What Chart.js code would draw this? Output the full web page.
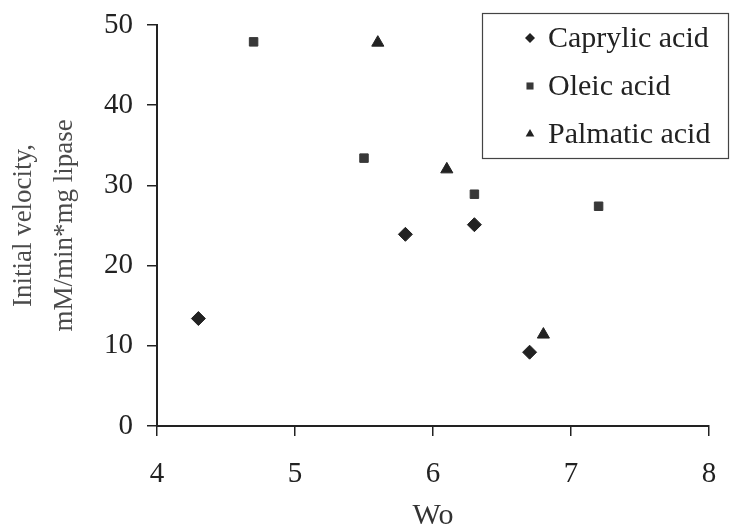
<!DOCTYPE html>
<html>
<head>
<meta charset="utf-8">
<script src="https://cdn.jsdelivr.net/npm/chart.js@4.4.1/dist/chart.umd.min.js"></script>
<style>
  html, body { margin: 0; padding: 0; background: #fff; }
  #wrap { width: 731px; height: 528px; }
</style>
</head>
<body>
<div id="wrap"><canvas id="velChart" width="731" height="528"></canvas></div>
<script>
/* Initial velocity vs Wo for three fatty acids */
const caprylicX = [4.3, 5.8, 6.3, 6.7];
const caprylicY = [13.4, 23.9, 25.1, 9.2];
const oleicX    = [4.7, 5.5, 6.3, 7.2];
const oleicY    = [47.9, 33.4, 28.9, 27.4];
const palmX     = [5.6, 6.1, 6.8];
const palmY     = [47.8, 32.0, 11.4];

const xTicks = [4, 5, 6, 7, 8];
const yTicks = [0, 10, 20, 30, 40, 50];

const FONT = '"Liberation Serif", "Times New Roman", serif';
const INK  = '#222';

const toPts = (xs, ys) => xs.map((x, i) => ({ x, y: ys[i] }));

/* legend box drawn inside the plot, top-right */
const boxLegend = {
  id: 'boxLegend',
  afterDraw(chart) {
    const c = chart.ctx;
    const x0 = 482, y0 = 13, w = 246, h = 145;
    c.save();
    c.fillStyle = '#fff';
    c.fillRect(x0, y0, w, h);
    c.strokeStyle = '#444';
    c.lineWidth = 1.2;
    c.strokeRect(x0 + 0.5, y0 + 0.5, w, h);
    c.font = '30px ' + FONT;
    c.textBaseline = 'middle';
    chart.data.datasets.forEach((ds, i) => {
      const cy = y0 + 25 + i * 48;
      c.fillStyle = ds.backgroundColor;
      c.strokeStyle = ds.backgroundColor;
      Chart.helpers.drawPoint(c, {
        pointStyle: ds.pointStyle, radius: 5, borderWidth: 0
      }, x0 + 48, cy);
      c.fillStyle = INK;
      c.fillText(ds.label, x0 + 66, cy + 1);
    });
    c.restore();
  }
};

new Chart(document.getElementById('velChart'), {
  type: 'scatter',
  data: {
    datasets: [
      { label: 'Caprylic acid', data: toPts(caprylicX, caprylicY), pointStyle: 'rectRot', pointRadius: 7, backgroundColor: INK, borderColor: INK },
      { label: 'Oleic acid',    data: toPts(oleicX, oleicY),       pointStyle: 'rect',    pointRadius: 6, backgroundColor: '#383838', borderColor: '#383838' },
      { label: 'Palmatic acid', data: toPts(palmX, palmY),         pointStyle: 'triangle', pointRadius: 7, backgroundColor: INK, borderColor: INK }
    ]
  },
  options: {
    responsive: false,
    animation: false,
    layout: { padding: { top: 25, right: 22, left: 0, bottom: 0 } },
    plugins: { legend: { display: false }, tooltip: { enabled: false } },
    scales: {
      x: {
        type: 'linear', min: 4, max: 8,
        afterBuildTicks: s => { s.ticks = xTicks.map(v => ({ value: v })); },
        afterFit: s => { s.height = 102; s.paddingLeft = 0; s.paddingRight = 0; },
        ticks: { font: { family: FONT, size: 29 }, color: INK, padding: 21 },
        grid: { drawOnChartArea: false, drawTicks: true, tickLength: 10, color: INK, lineWidth: 1.5 },
        border: { display: true, color: INK, width: 2 },
        title: { display: true, text: 'Wo', font: { family: FONT, size: 30, lineHeight: 0.8 }, color: '#333', padding: { top: 0, bottom: 0 } }
      },
      y: {
        type: 'linear', min: 0, max: 50,
        afterBuildTicks: s => { s.ticks = yTicks.map(v => ({ value: v })); },
        afterFit: s => { s.width = 157; s.paddingTop = 0; s.paddingBottom = 0; },
        ticks: { font: { family: FONT, size: 29 }, color: INK, padding: 14 },
        grid: { drawOnChartArea: false, drawTicks: true, tickLength: 10, color: INK, lineWidth: 1.5 },
        border: { display: true, color: INK, width: 2 },
        title: { display: true, text: ['Initial velocity,', 'mM/min*mg lipase'], font: { family: FONT, size: 27, lineHeight: 1.5 }, color: '#4a4a4a', padding: { top: 4, bottom: 0 } }
      }
    }
  },
  plugins: [boxLegend]
});
</script>
</body>
</html>
